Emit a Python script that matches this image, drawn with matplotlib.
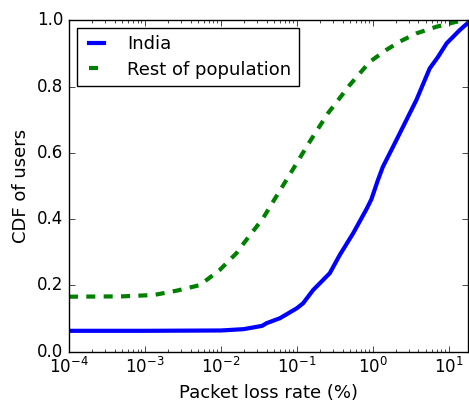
import matplotlib
matplotlib.use("Agg")
import matplotlib.pyplot as plt

plt.style.use("classic")
plt.rcParams["font.family"] = ["DejaVu Sans"]
plt.rcParams["mathtext.fontset"] = "dejavusans"

india_x = [1e-4, 1e-3, 0.01, 0.02, 0.035, 0.04, 0.06, 0.1, 0.121, 0.164, 0.272, 0.368,
           0.551, 0.826, 0.96, 1.17, 1.36, 1.95, 2.77, 3.76, 5.62, 7.24, 9.4, 14, 18]
india_y = [0.063, 0.063, 0.064, 0.068, 0.078, 0.086, 0.101, 0.131, 0.146, 0.186, 0.237, 0.292,
           0.357, 0.43, 0.46, 0.518, 0.558, 0.629, 0.699, 0.76, 0.855, 0.89, 0.931,
           0.971, 0.993]

rest_x = [1e-4, 5e-4, 1.3e-3, 2.6e-3, 5.3e-3, 9.7e-3, 0.016, 0.02, 0.036, 0.0488, 0.085,
          0.148, 0.258, 0.498, 0.912, 1.51, 2.26, 3.76, 6.9, 12.6, 18]
rest_y = [0.166, 0.167, 0.171, 0.184, 0.201, 0.247, 0.297, 0.327, 0.403, 0.453, 0.543,
          0.634, 0.72, 0.805, 0.875, 0.911, 0.936, 0.961, 0.981, 0.996, 1.0]

fig = plt.figure(figsize=(4.69, 4.01), dpi=100, facecolor="white")
ax = fig.add_axes([0.147, 0.123, 0.851, 0.826])
ax.plot(india_x, india_y, color="blue", lw=3, label="India")
ax.plot(rest_x, rest_y, color="green", lw=3, linestyle="--", dashes=(6.5, 6),
        label="Rest of population")
ax.set_xscale("log")
ax.set_xlim(1e-4, 18)
ax.set_ylim(0, 1.0)
ax.set_yticks([0, 0.2, 0.4, 0.6, 0.8, 1.0])
ax.set_xlabel("Packet loss rate (%)", fontsize=13)
ax.set_ylabel("CDF of users", fontsize=13)
ax.tick_params(labelsize=12)
ax.legend(loc="upper left", fontsize=13, handlelength=1.4, handletextpad=1.0,
          borderaxespad=0.43, borderpad=0.4, labelspacing=0.4)
fig.savefig("out.png", dpi=100, facecolor="white")
